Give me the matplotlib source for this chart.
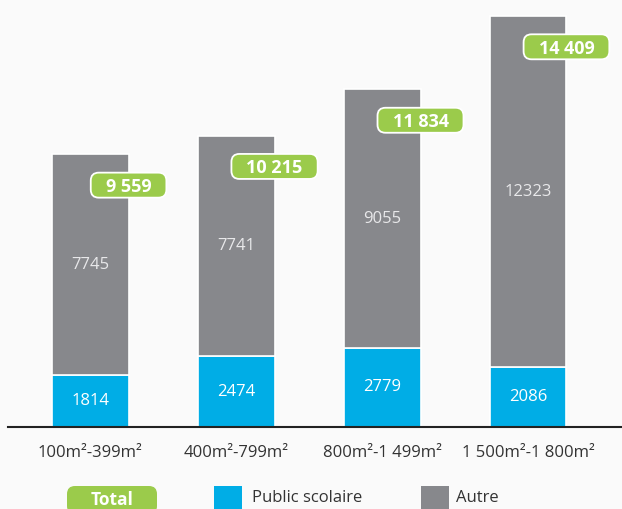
import matplotlib
matplotlib.use("Agg")
import matplotlib.pyplot as plt
from matplotlib.patches import FancyBboxPatch, Rectangle

categories = ["100m²-399m²", "400m²-799m²", "800m²-1 499m²", "1 500m²-1 800m²"]
public_scolaire = [1814, 2474, 2779, 2086]
autre = [7745, 7741, 9055, 12323]
totals = [9559, 10215, 11834, 14409]
total_labels = ["9 559", "10 215", "11 834", "14 409"]

BLUE = "#00ADE6"
GRAY = "#87888C"
GREEN = "#9BCB4B"
BG = "#FAFAFA"
FONT = ["Open Sans", "DejaVu Sans"]

fig = plt.figure(figsize=(6.22, 5.09), dpi=100, facecolor=BG)
ax = fig.add_axes([0.013, 1 - 427 / 509, 0.987, 427 / 509])
ax.set_facecolor(BG)

x = list(range(len(categories)))
width = 0.527
ax.bar(x, public_scolaire, width, color=BLUE, edgecolor="white", linewidth=1.2, zorder=2)
ax.bar(x, autre, width, bottom=public_scolaire, color=GRAY, edgecolor="white", linewidth=1.2, zorder=2)

ax.set_xlim(-0.562, 3.644)
ax.set_ylim(0, 14970)

for i in x:
    ax.text(i, public_scolaire[i] / 2, str(public_scolaire[i]), ha="center", va="center",
            color="white", fontsize=12, family=FONT, zorder=3)
    ax.text(i, public_scolaire[i] + autre[i] / 2, str(autre[i]), ha="center", va="center",
            color="#E8E8EA", fontsize=12, family=FONT, zorder=3)

for s in ["top", "right", "left"]:
    ax.spines[s].set_visible(False)
ax.spines["bottom"].set_color("#222222")
ax.spines["bottom"].set_linewidth(1.5)
ax.set_yticks([])
ax.set_xticks(x)
ax.set_xticklabels(categories, fontsize=12, color="#333333", family=FONT)
ax.tick_params(axis="x", length=0, pad=13)

# green total pills (drawn in display pixels, centred on data positions)
total_texts = []
for i in x:
    t = ax.text(i + width / 2, totals[i] - 1150, total_labels[i], ha="center", va="center",
                color="white", fontsize=13, fontweight="bold", family=FONT, zorder=6)
    total_texts.append(t)

fig.canvas.draw()
renderer = fig.canvas.get_renderer()
for t in total_texts:
    bb = t.get_window_extent(renderer)
    cx, cy = ax.transData.transform(t.get_position())
    w = bb.width + 30
    h = 25
    p = FancyBboxPatch((cx - w / 2, cy - h / 2 + 2), w, h,
                       boxstyle="round,pad=0,rounding_size=8",
                       fc=GREEN, ec="white", lw=1.3, transform=None, zorder=5)
    ax.add_artist(p)

# legend
lt = fig.text(112 / 622, 1 - 500 / 509, "Total", ha="center", va="center", color="white",
              fontsize=12.5, fontweight="bold", family=FONT, zorder=6)
fig.patches.append(FancyBboxPatch((67, -5), 90, 28, boxstyle="round,pad=0,rounding_size=8",
                                  transform=None, fc=GREEN, ec="none"))
fig.patches.append(Rectangle((214 / 622, 0), 28 / 622, 23 / 509, transform=fig.transFigure,
                             fc=BLUE, ec="none"))
fig.text(252 / 622, 1 - 498 / 509, "Public scolaire", ha="left", va="center",
         color="#333333", fontsize=12, family=FONT)
fig.patches.append(Rectangle((421 / 622, 0), 28 / 622, 23 / 509, transform=fig.transFigure,
                             fc=GRAY, ec="none"))
fig.text(456 / 622, 1 - 498 / 509, "Autre", ha="left", va="center",
         color="#333333", fontsize=12, family=FONT)

fig.savefig("out.png", dpi=100, facecolor=BG)
